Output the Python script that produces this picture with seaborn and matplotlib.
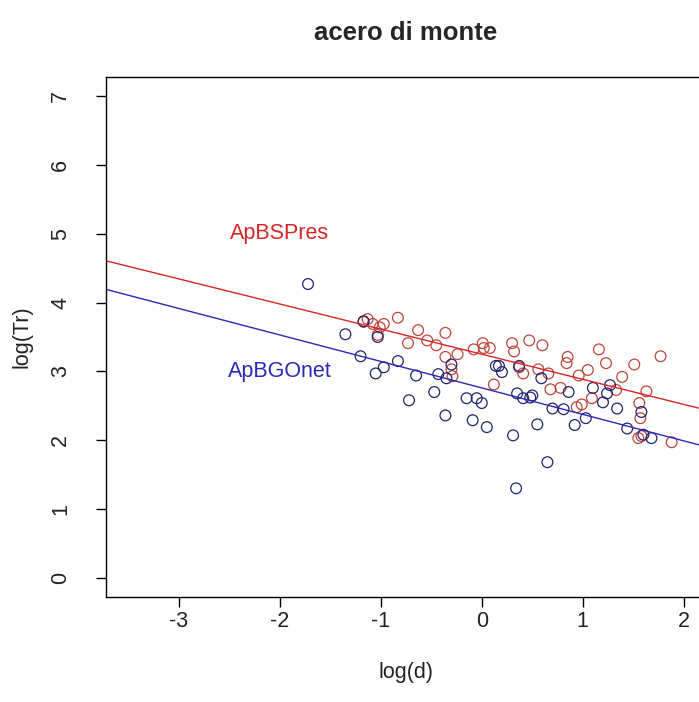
import matplotlib
matplotlib.use("Agg")
import matplotlib.pyplot as plt
import seaborn as sns
import numpy as np
import pandas as pd

# log(d) / log(Tr) observations for sycamore maple ("acero di monte")
bs_x = [-1.17, -1.13, -1.08, -1.01, -0.97, -1.03, -0.83, -0.63, -0.73, -0.54,
        -0.45, -0.36, -0.36, -0.30, -0.29, -0.24, -0.08, 0.01, 0.02, 0.08,
        0.12, 0.30, 0.32, 0.47, 0.60, 0.37, 0.41, 0.56, 0.66, 0.85,
        0.84, 1.16, 1.23, 1.51, 1.77, 1.05, 0.96, 1.39, 0.68, 0.78,
        1.09, 1.33, 1.63, 1.56, 0.99, 0.94, 1.57, 1.55, 1.58, 1.88]
bs_y = [3.72, 3.76, 3.69, 3.64, 3.69, 3.53, 3.78, 3.60, 3.41, 3.45,
        3.38, 3.56, 3.21, 3.03, 2.93, 3.25, 3.32, 3.41, 3.34, 3.34,
        2.81, 3.41, 3.29, 3.45, 3.38, 3.06, 2.97, 3.03, 2.97, 3.21,
        3.12, 3.32, 3.12, 3.10, 3.22, 3.02, 2.94, 2.92, 2.74, 2.76,
        2.61, 2.73, 2.71, 2.54, 2.52, 2.48, 2.32, 2.03, 2.06, 1.97]

bg_x = [-1.72, -1.35, -1.17, -1.20, -1.05, -0.97, -1.03, -0.83, -0.65, -0.72,
        -0.47, -0.43, -0.35, -0.30, -0.36, -0.15, -0.05, 0.00, -0.09, 0.05,
        0.31, 0.14, 0.17, 0.20, 0.35, 0.41, 0.48, 0.37, 0.59, 0.50,
        0.70, 0.81, 0.86, 1.10, 1.27, 1.24, 1.20, 1.03, 0.92, 0.55,
        0.65, 0.34, 1.34, 1.44, 1.60, 1.68, 1.58]
bg_y = [4.27, 3.54, 3.73, 3.22, 2.97, 3.06, 3.50, 3.15, 2.94, 2.58,
        2.70, 2.96, 2.90, 3.10, 2.36, 2.61, 2.61, 2.54, 2.29, 2.19,
        2.07, 3.08, 3.08, 2.99, 2.68, 2.61, 2.62, 3.08, 2.90, 2.65,
        2.46, 2.45, 2.70, 2.76, 2.80, 2.68, 2.55, 2.32, 2.22, 2.23,
        1.68, 1.30, 2.46, 2.17, 2.08, 2.03, 2.41]

# fitted regression lines: intercept, slope
bs_fit = (3.25, -0.365)
bg_fit = (2.76, -0.385)

series_names = ["ApBSPres", "ApBGOnet"]
label_pos_x = [-2.0, -2.0]
label_pos_y = [5.0, 3.0]

x_ticks = [-3, -2, -1, 0, 1, 2]
y_ticks = [0, 1, 2, 3, 4, 5, 6, 7]

RED = "#d42626"
RED_PT = "#c0443c"
BLUE = "#2a2ab4"
BLUE_PT = "#23236e"
TXT = "#222222"
FS = 15.5

sns.set_style("white")
plt.rcParams["font.family"] = ["Liberation Sans", "DejaVu Sans"]

W, H = 699, 702
fig = plt.figure(figsize=(W / 100, H / 100), dpi=100)
# plot region: left edge at 106 px, right edge just past the figure border
ax = fig.add_axes([106 / W, (H - 597) / H, 600 / W, 520 / H])

df = pd.DataFrame({
    "x": bs_x + bg_x,
    "y": bs_y + bg_y,
    "serie": [series_names[0]] * len(bs_x) + [series_names[1]] * len(bg_x),
})

for name, col in zip(series_names, [RED_PT, BLUE_PT]):
    sub = df[df["serie"] == name]
    sns.scatterplot(data=sub, x="x", y="y", ax=ax, s=60,
                    facecolor="none", edgecolor=col, linewidth=0.9,
                    legend=False)
for coll in ax.collections:
    coll.set_facecolor("none")

for (b0, b1), col in zip([bs_fit, bg_fit], [RED, BLUE]):
    ax.axline((0, b0), slope=b1, color=col, linewidth=1.0)

for name, tx, ty, col in zip(series_names, label_pos_x, label_pos_y, [RED, BLUE]):
    ax.text(tx, ty, name, color=col, fontsize=FS, ha="center", va="center")

# R-style 4% padding around the data range
xr = (-3.5, 2.0)
yr = (0.0, 7.0)
dx = 0.04 * (xr[1] - xr[0])
dy = 0.04 * (yr[1] - yr[0])
ax.set_xlim(xr[0] - dx, xr[1] + dx)
ax.set_ylim(yr[0] - dy, yr[1] + dy)

ax.set_xticks(x_ticks)
ax.set_yticks(y_ticks)
ax.set_xticklabels([str(v) for v in x_ticks])
ax.set_yticklabels([str(v) for v in y_ticks], rotation=90, va="center")
ax.tick_params(axis="both", direction="out", length=7, width=1.0,
               color="black", labelsize=FS, labelcolor=TXT)
ax.tick_params(axis="x", pad=3, bottom=True)
ax.tick_params(axis="y", pad=18, left=True)

for sp in ax.spines.values():
    sp.set_visible(True)
    sp.set_color("black")
    sp.set_linewidth(1.0)

ax.set_xlabel("log(d)", fontsize=FS, color=TXT, labelpad=22)
ax.set_ylabel("log(Tr)", fontsize=FS, color=TXT, labelpad=13)

fig.text((106 + 706) / 2 / W, 1 - 33 / H, "acero di monte",
         fontsize=18.5, fontweight="bold", ha="center", va="center")

fig.savefig("out.png", dpi=100)
